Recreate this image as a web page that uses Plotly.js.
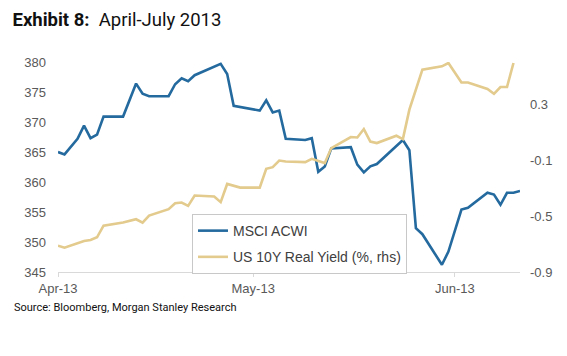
<!DOCTYPE html>
<html>
<head>
<meta charset="utf-8">
<script src="https://cdn.plot.ly/plotly-3.0.1.min.js"></script>
<style>html,body{margin:0;padding:0;background:#fff;}#chart{width:567px;height:356px;}</style>
</head>
<body>
<div id="chart"></div>
<script>
const acwiDates = ['2013-04-01','2013-04-02','2013-04-04','2013-04-05','2013-04-06','2013-04-07','2013-04-08','2013-04-11','2013-04-13','2013-04-14','2013-04-15','2013-04-18','2013-04-19','2013-04-20','2013-04-21','2013-04-22','2013-04-26','2013-04-27','2013-04-28','2013-05-02','2013-05-03','2013-05-04','2013-05-05','2013-05-06','2013-05-09','2013-05-10','2013-05-11','2013-05-12','2013-05-13','2013-05-16','2013-05-17','2013-05-18','2013-05-19','2013-05-20','2013-05-24','2013-05-25','2013-05-26','2013-05-27','2013-05-30','2013-05-31','2013-06-02','2013-06-03','2013-06-06','2013-06-07','2013-06-08','2013-06-09','2013-06-10','2013-06-11'];
const acwiValues = [365.0,364.6,367.2,369.4,367.3,367.9,370.9,370.9,376.4,374.7,374.3,374.3,376.3,377.3,376.8,377.8,379.7,378.0,372.7,371.9,373.6,371.6,371.9,367.2,367.0,367.3,361.7,362.6,365.6,365.8,362.9,361.6,362.6,363.0,367.0,365.3,352.3,351.3,346.2,348.4,355.4,355.7,358.2,357.9,356.2,358.2,358.2,358.5];

const yieldDates = ['2013-04-01','2013-04-02','2013-04-05','2013-04-06','2013-04-07','2013-04-08','2013-04-11','2013-04-13','2013-04-14','2013-04-15','2013-04-18','2013-04-19','2013-04-20','2013-04-21','2013-04-22','2013-04-25','2013-04-26','2013-04-27','2013-04-29','2013-05-02','2013-05-03','2013-05-04','2013-05-05','2013-05-06','2013-05-09','2013-05-10','2013-05-12','2013-05-13','2013-05-16','2013-05-17','2013-05-18','2013-05-19','2013-05-20','2013-05-23','2013-05-24','2013-05-25','2013-05-27','2013-05-30','2013-05-31','2013-06-02','2013-06-03','2013-06-06','2013-06-07','2013-06-08','2013-06-09','2013-06-10'];
const yieldValues = [-0.712,-0.726,-0.678,-0.671,-0.652,-0.569,-0.547,-0.523,-0.547,-0.497,-0.451,-0.409,-0.404,-0.428,-0.354,-0.361,-0.401,-0.271,-0.297,-0.297,-0.163,-0.151,-0.104,-0.111,-0.115,-0.092,-0.122,-0.015,0.064,0.061,0.121,0.032,0.021,0.073,0.049,0.26,0.545,0.569,0.593,0.454,0.454,0.407,0.373,0.421,0.421,0.593];

const seriesNames = ['MSCI ACWI','US 10Y Real Yield (%, rhs)'];
const rightTickVals = [-0.9,-0.5,-0.1,0.3];
const rightTickText = ['-0.9','-0.5','-0.1','0.3'];
const monthTicks = ['2013-04-01','2013-05-01','2013-06-01'];
const monthLabels = ['Apr-13','May-13','Jun-13'];

const traces = [
  {x: acwiDates, y: acwiValues, name: seriesNames[0], type: 'scatter', mode: 'lines',
   line: {color: '#246a9f', width: 2.6}, yaxis: 'y', legendgroup: 'a'},
  {x: yieldDates, y: yieldValues, name: seriesNames[1], type: 'scatter', mode: 'lines',
   line: {color: '#e3ca8d', width: 2.6}, yaxis: 'y2', legendgroup: 'b'}
];

const tickFont = {family: 'Liberation Sans, Arial, sans-serif', size: 13, color: '#595959'};

const layout = {
  width: 567, height: 356,
  margin: {l: 58, r: 47, t: 62, b: 84},
  paper_bgcolor: '#fff', plot_bgcolor: '#fff',
  showlegend: true,
  title: {text: '<b>Exhibit 8:</b>&nbsp; April-July 2013', x: 0.022, xanchor: 'left', xref: 'container',
          y: 0.945, yanchor: 'middle', yref: 'container',
          font: {family: 'Roboto, sans-serif', size: 18.5, color: '#111'}},
  xaxis: {type: 'date', range: ['2013-04-01','2013-06-11'], tickvals: monthTicks, ticktext: monthLabels,
          showgrid: false, zeroline: false, showline: true, linecolor: '#d9d9d9', linewidth: 1,
          ticks: 'outside', ticklen: 4, tickcolor: '#d9d9d9', tickfont: tickFont},
  yaxis: {range: [345, 380], dtick: 5, tick0: 345, showgrid: false, zeroline: false, showline: false,
          ticks: '', ticklabelstandoff: 11, tickfont: tickFont},
  yaxis2: {range: [-0.9, 0.6], overlaying: 'y', side: 'right', tickvals: rightTickVals, ticktext: rightTickText,
           showgrid: false, zeroline: false, showline: false, ticks: '', ticklabelstandoff: 9, tickfont: tickFont},
  legend: {x: 0.29, xanchor: 'left', y: 0.276, yanchor: 'top', bgcolor: '#fff', bordercolor: '#c8c8c8', borderwidth: 1,
           font: {family: 'Liberation Sans, Arial, sans-serif', size: 14, color: '#404040'},
           traceorder: 'grouped', tracegroupgap: 5},
  annotations: [
    {text: 'Source: Bloomberg, Morgan Stanley Research', xref: 'paper', yref: 'paper',
     x: -0.099, xanchor: 'left', y: -0.17, yanchor: 'middle', showarrow: false,
     font: {family: 'Roboto, sans-serif', size: 11, color: '#111'}}
  ]
};

Plotly.newPlot('chart', traces, layout, {displayModeBar: false, staticPlot: true});
</script>
</body>
</html>
